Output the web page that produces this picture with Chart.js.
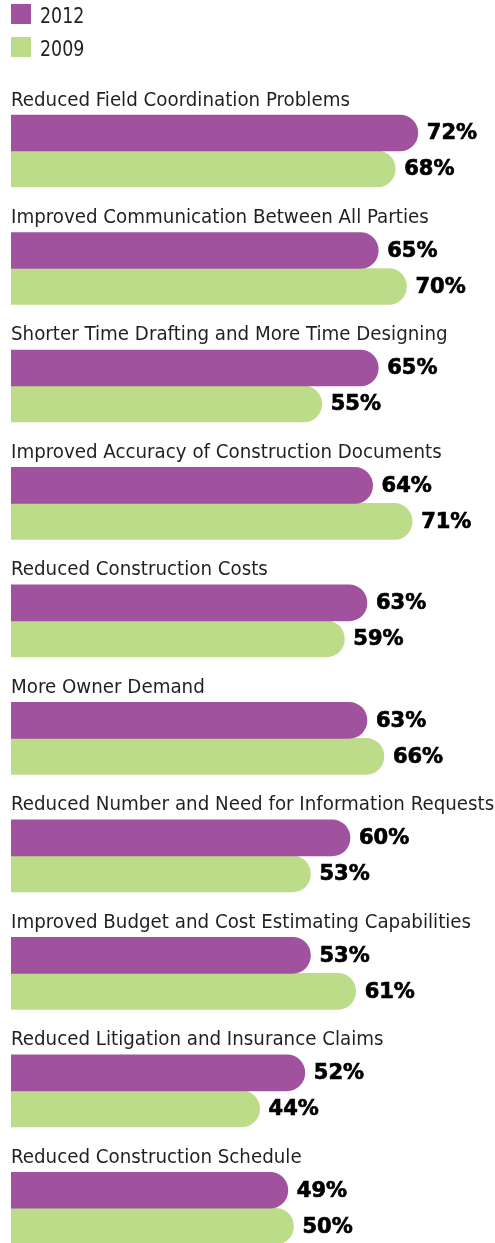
<!DOCTYPE html>
<html>
<head>
<meta charset="utf-8">
<title>BIM benefits 2012 vs 2009</title>
<script src="https://cdn.jsdelivr.net/npm/chart.js@4.4.1/dist/chart.umd.min.js"></script>
<style>
    html, body { margin: 0; padding: 0; background: #fff; overflow: hidden; }
    canvas { display: block; }
</style>
</head>
<body>
<canvas id="benefits-chart" width="495" height="1267"></canvas>
<script>
// Data
const categories = [
    'Reduced Field Coordination Problems',
    'Improved Communication Between All Parties',
    'Shorter Time Drafting and More Time Designing',
    'Improved Accuracy of Construction Documents',
    'Reduced Construction Costs',
    'More Owner Demand',
    'Reduced Number and Need for Information Requests',
    'Improved Budget and Cost Estimating Capabilities',
    'Reduced Litigation and Insurance Claims',
    'Reduced Construction Schedule'
];
const seriesNames = ['2012', '2009'];
const values2012 = [72, 65, 65, 64, 63, 63, 60, 53, 52, 49];
const values2009 = [68, 70, 55, 71, 59, 66, 53, 61, 44, 50];

const PURPLE = '#a0529f';
const GREEN = '#bcdc8a';
const LABEL_FONT = '"DejaVu Sans Condensed", "Liberation Sans", sans-serif';

// Legend drawn as a vertical list above the bars
const stackedLegend = {
    id: 'stackedLegend',
    afterDraw(chart) {
        const ctx = chart.ctx;
        ctx.save();
        chart.data.datasets.forEach((ds, i) => {
            const top = 4 + i * 33;
            ctx.fillStyle = ds.backgroundColor;
            ctx.fillRect(11, top, 20, 20);
            ctx.save();
            ctx.translate(40, top + 19.3);
            ctx.scale(0.88, 1);
            ctx.fillStyle = '#231f20';
            ctx.font = '22px ' + LABEL_FONT;
            ctx.textBaseline = 'alphabetic';
            ctx.fillText(ds.label, 0, 0);
            ctx.restore();
        });
        ctx.restore();
    }
};

// Category titles over each pair and value labels at the bar ends
const barLabels = {
    id: 'barLabels',
    afterDatasetsDraw(chart) {
        const ctx = chart.ctx;
        ctx.save();
        const first = chart.getDatasetMeta(0);
        ctx.fillStyle = '#231f20';
        ctx.font = '20.3px ' + LABEL_FONT;
        ctx.textAlign = 'left';
        ctx.textBaseline = 'alphabetic';
        first.data.forEach((bar, i) => {
            const top = bar.y - bar.height / 2;
            ctx.fillText(chart.data.labels[i], chart.chartArea.left, top - 9.5);
        });
        ctx.font = 'bold 21px "DejaVu Sans", sans-serif';
        ctx.fillStyle = '#000';
        ctx.strokeStyle = '#000';
        ctx.lineWidth = 0.7;
        ctx.textBaseline = 'middle';
        chart.data.datasets.forEach((ds, d) => {
            chart.getDatasetMeta(d).data.forEach((bar, i) => {
                const txt = ds.data[i] + '%';
                ctx.fillText(txt, bar.x + 9, bar.y + 1);
                ctx.strokeText(txt, bar.x + 9, bar.y + 1);
            });
        });
        ctx.restore();
    }
};

const ctx = document.getElementById('benefits-chart').getContext('2d');
new Chart(ctx, {
    type: 'bar',
    data: {
        labels: categories,
        datasets: [
            {
                label: seriesNames[0],
                data: values2012,
                backgroundColor: PURPLE,
                borderRadius: { topRight: 18, bottomRight: 18 },
                borderSkipped: false,
                barThickness: 36
            },
            {
                label: seriesNames[1],
                data: values2009,
                backgroundColor: GREEN,
                borderRadius: { topRight: 18, bottomRight: 18 },
                borderSkipped: false,
                barThickness: 36
            }
        ]
    },
    options: {
        indexAxis: 'y',
        responsive: false,
        animation: false,
        layout: { padding: { top: 92.3, left: 11, right: 3.75, bottom: 0 } },
        scales: {
            x: { display: false, min: 0, max: 85 },
            y: { display: false }
        },
        plugins: {
            legend: { display: false },
            tooltip: { enabled: false }
        }
    },
    plugins: [stackedLegend, barLabels]
});
</script>
</body>
</html>
